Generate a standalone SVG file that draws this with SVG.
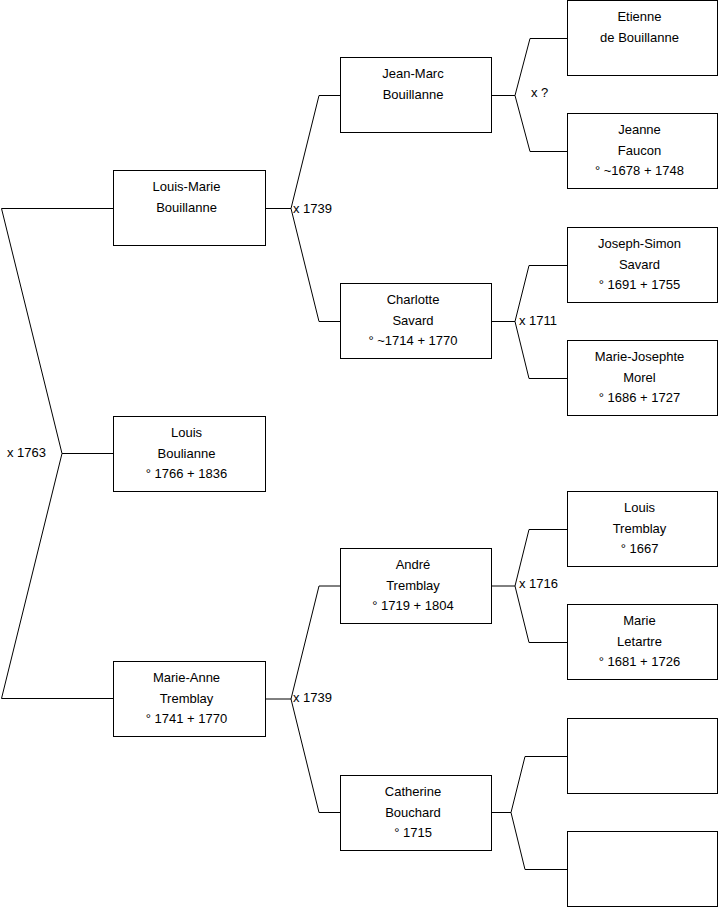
<svg xmlns="http://www.w3.org/2000/svg" width="719" height="908" viewBox="0 0 719 908">
<style>
rect.b{fill:#fff;stroke:#000;stroke-width:1}
text{font-family:"Liberation Sans",Arial,sans-serif;font-size:13px;fill:#000}
.n text{text-anchor:middle}
#connectors path{fill:none;stroke:#000;stroke-width:1}
</style>
<rect width="719" height="908" fill="#fff"/>
<g id="connectors">
<path d="M113.5 453.5H62L1.5 208.5H113.5M62 453.5L1.5 698.5H113.5"/>
<path d="M265.5 208.5H291L319 95.5H340.5M291 208.5L319 321.5H340.5"/>
<path d="M265.5 699H291L319 586H340.5M291 699L319 812.5H340.5"/>
<path d="M491.5 95.5H515L530 38.5H567.5M515 95.5L530 151.5H567.5"/>
<path d="M491.5 321.5H515L529 265.5H567.5M515 321.5L529 378.5H567.5"/>
<path d="M491.5 586H515L529 529.5H567.5M515 586L529 642.5H567.5"/>
<path d="M491.5 812.5H511L525 756.5H567.5M511 812.5L525 869.5H567.5"/>
<text x="7" y="457">x 1763</text>
<text x="293" y="212.5">x 1739</text>
<text x="293" y="702">x 1739</text>
<text x="531" y="97">x ?</text>
<text x="519" y="325">x 1711</text>
<text x="519" y="587.5">x 1716</text>
</g>
<g id="louis-marie" class="n"><rect class="b" x="113.5" y="170.5" width="152" height="75"/><text x="186.5" y="191">Louis-Marie</text><text x="186.5" y="211.5">Bouillanne</text></g>
<g id="louis" class="n"><rect class="b" x="113.5" y="416.5" width="152" height="75"/><text x="186.5" y="437">Louis</text><text x="186.5" y="457.5">Boulianne</text><text x="186.5" y="478">° 1766 + 1836</text></g>
<g id="marie-anne" class="n"><rect class="b" x="113.5" y="661.5" width="152" height="75"/><text x="186.5" y="682">Marie-Anne</text><text x="186.5" y="702.5">Tremblay</text><text x="186.5" y="723">° 1741 + 1770</text></g>
<g id="jean-marc" class="n"><rect class="b" x="340.5" y="57.5" width="151" height="75"/><text x="413" y="78">Jean-Marc</text><text x="413" y="98.5">Bouillanne</text></g>
<g id="charlotte" class="n"><rect class="b" x="340.5" y="283.5" width="151" height="75"/><text x="413" y="304">Charlotte</text><text x="413" y="324.5">Savard</text><text x="413" y="345">° ~1714 + 1770</text></g>
<g id="andre" class="n"><rect class="b" x="340.5" y="548.5" width="151" height="75"/><text x="413" y="569">André</text><text x="413" y="589.5">Tremblay</text><text x="413" y="610">° 1719 + 1804</text></g>
<g id="catherine" class="n"><rect class="b" x="340.5" y="775.5" width="151" height="75"/><text x="413" y="796">Catherine</text><text x="413" y="816.5">Bouchard</text><text x="413" y="837">° 1715</text></g>
<g id="etienne" class="n"><rect class="b" x="567.5" y="0.5" width="150" height="75"/><text x="639.5" y="21">Etienne</text><text x="639.5" y="41.5">de Bouillanne</text></g>
<g id="jeanne" class="n"><rect class="b" x="567.5" y="113.5" width="150" height="75"/><text x="639.5" y="134">Jeanne</text><text x="639.5" y="154.5">Faucon</text><text x="639.5" y="175">° ~1678 + 1748</text></g>
<g id="joseph-simon" class="n"><rect class="b" x="567.5" y="227.5" width="150" height="75"/><text x="639.5" y="248">Joseph-Simon</text><text x="639.5" y="268.5">Savard</text><text x="639.5" y="289">° 1691 + 1755</text></g>
<g id="marie-josephte" class="n"><rect class="b" x="567.5" y="340.5" width="150" height="75"/><text x="639.5" y="361">Marie-Josephte</text><text x="639.5" y="381.5">Morel</text><text x="639.5" y="402">° 1686 + 1727</text></g>
<g id="louis-tremblay" class="n"><rect class="b" x="567.5" y="491.5" width="150" height="75"/><text x="639.5" y="512">Louis</text><text x="639.5" y="532.5">Tremblay</text><text x="639.5" y="553">° 1667</text></g>
<g id="marie-letartre" class="n"><rect class="b" x="567.5" y="604.5" width="150" height="75"/><text x="639.5" y="625">Marie</text><text x="639.5" y="645.5">Letartre</text><text x="639.5" y="666">° 1681 + 1726</text></g>
<g id="empty1" class="n"><rect class="b" x="567.5" y="718.5" width="150" height="75"/></g>
<g id="empty2" class="n"><rect class="b" x="567.5" y="831.5" width="150" height="75"/></g>
</svg>
